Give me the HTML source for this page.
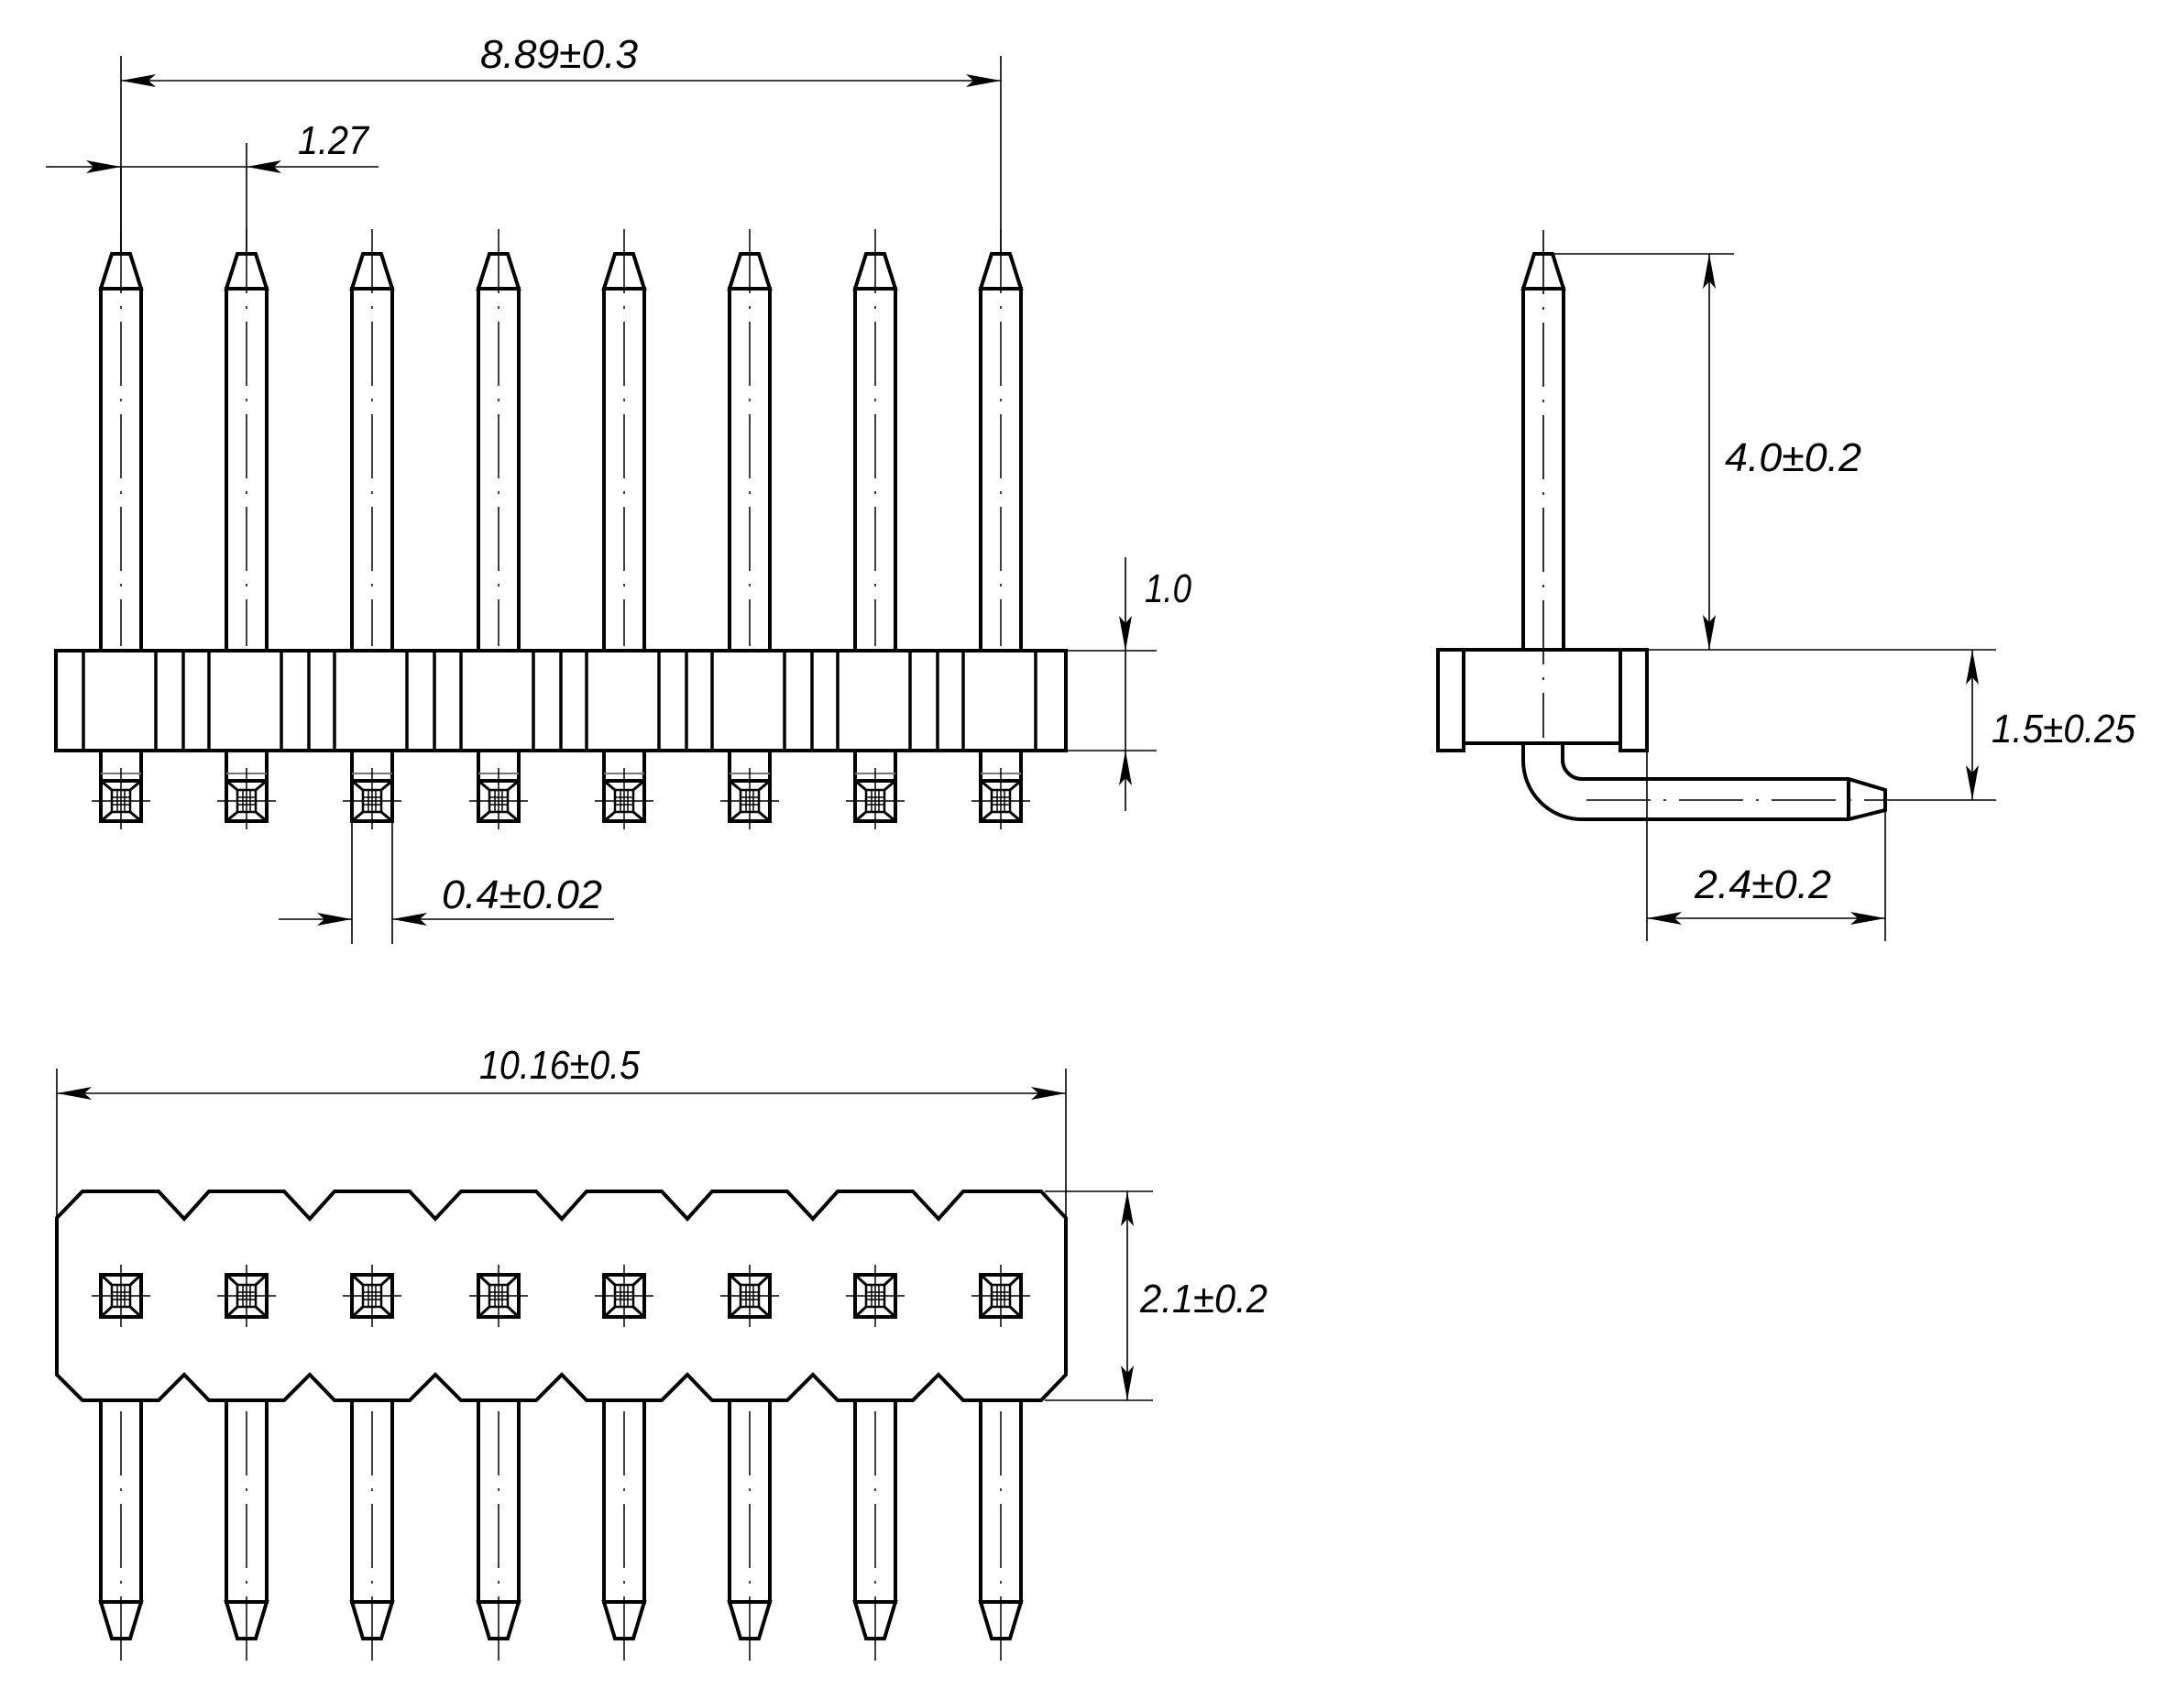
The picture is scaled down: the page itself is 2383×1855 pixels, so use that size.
<!DOCTYPE html>
<html><head><meta charset="utf-8"><style>html,body{margin:0;padding:0;background:#fff}svg{display:block}</style></head>
<body>
<svg width="2383" height="1855" viewBox="0 0 2383 1855" xmlns="http://www.w3.org/2000/svg">
<defs>
<g id="fpin">
  <polygon points="-10,277 10,277 22,315 -22,315" fill="none" stroke="#000" stroke-width="4"/>
  <rect x="-22" y="315" width="44" height="395" fill="none" stroke="#000" stroke-width="4"/>
  <line x1="0" y1="250" x2="0" y2="705" stroke="#000" stroke-width="1.5" stroke-dasharray="70 14 3 14"/>
  <rect x="-22" y="819" width="44" height="77" fill="none" stroke="#000" stroke-width="4"/>
  <line x1="-22" y1="844" x2="22" y2="844" stroke="#777" stroke-width="2"/>
  <rect x="-22" y="852" width="44" height="44" fill="none" stroke="#000" stroke-width="4"/>
  <rect x="-10" y="862" width="20" height="24" fill="none" stroke="#000" stroke-width="2.5"/>
  <path d="M-22,852 L-10,862 M22,852 L10,862 M-22,896 L-10,886 M22,896 L10,886" stroke="#000" stroke-width="3"/>
  <path d="M-4,862 V886 M4,862 V886 M-10,870 H10 M-10,878 H10" stroke="#000" stroke-width="1.5"/>
  <line x1="-32" y1="874" x2="32" y2="874" stroke="#000" stroke-width="1.5"/>
  <line x1="0" y1="838" x2="0" y2="905" stroke="#000" stroke-width="1.5"/>
</g>
<g id="bpad">
  <rect x="-22" y="1391" width="44" height="46" fill="none" stroke="#000" stroke-width="4"/>
  <rect x="-10" y="1402" width="20" height="24" fill="none" stroke="#000" stroke-width="2.5"/>
  <path d="M-22,1391 L-10,1402 M22,1391 L10,1402 M-22,1437 L-10,1426 M22,1437 L10,1426" stroke="#000" stroke-width="3"/>
  <path d="M-4,1402 V1426 M4,1402 V1426 M-10,1410 H10 M-10,1418 H10" stroke="#000" stroke-width="1.5"/>
  <line x1="-32" y1="1414" x2="32" y2="1414" stroke="#000" stroke-width="1.5"/>
  <line x1="0" y1="1380" x2="0" y2="1448" stroke="#000" stroke-width="1.5"/>
  <rect x="-22" y="1528" width="44" height="220" fill="none" stroke="#000" stroke-width="4"/>
  <polygon points="-22,1748 22,1748 10,1788 -10,1788" fill="none" stroke="#000" stroke-width="4"/>
  <line x1="0" y1="1540" x2="0" y2="1815" stroke="#000" stroke-width="1.5" stroke-dasharray="70 14 3 14"/>
</g>
</defs>

<!-- FRONT VIEW -->
<use href="#fpin" x="132"/><use href="#fpin" x="269"/><use href="#fpin" x="406"/><use href="#fpin" x="544"/>
<use href="#fpin" x="681"/><use href="#fpin" x="818"/><use href="#fpin" x="955"/><use href="#fpin" x="1092"/>
<rect x="61" y="710" width="1102" height="109" fill="none" stroke="#000" stroke-width="4"/>
<g stroke="#000" stroke-width="3.5">
<path d="M91,710V819M170,710V819M200,710V819M228,710V819M307,710V819M337,710V819M365,710V819M444,710V819M474,710V819M503,710V819M582,710V819M612,710V819M640,710V819M719,710V819M749,710V819M777,710V819M856,710V819M886,710V819M914,710V819M993,710V819M1023,710V819M1051,710V819M1130,710V819"/>
</g>
<g stroke="#000" stroke-width="1.6" fill="none">
<!-- 8.89 -->
<path d="M132,61V277M1092,61V277M132,88H1092"/>
<!-- 1.27 -->
<path d="M50,182H413M269,156V277M132,182V277"/>
<!-- 1.0 -->
<path d="M1163,710H1262M1163,819H1262M1228,608V885"/>
<!-- 0.4 -->
<path d="M384,897V1030M428,897V1030M304,1003H384M428,1003H670"/>
</g>
<g fill="#000">
<polygon points="132,88 170,81 162,88 170,95"/>
<polygon points="1092,88 1054,81 1062,88 1054,95"/>
<polygon points="132,182 94,175 102,182 94,189"/>
<polygon points="269,182 307,175 299,182 307,189"/>
<polygon points="1228,710 1221,672 1228,680 1235,672"/>
<polygon points="1228,819 1221,857 1228,849 1235,857"/>
<polygon points="384,1003 346,996 354,1003 346,1010"/>
<polygon points="428,1003 466,996 458,1003 466,1010"/>
</g>

<!-- SIDE VIEW -->
<g fill="none" stroke="#000" stroke-width="4">
<polygon points="1674,277 1694,277 1706,315 1662,315"/>
<rect x="1662" y="315" width="44" height="394"/>
<rect x="1569" y="709" width="28" height="110"/>
<rect x="1768" y="709" width="29" height="110"/>
<rect x="1597" y="709" width="171" height="102"/>
<path d="M1662,811 L1662,830 A64,64 0 0 0 1726,894 L2017,894 L2057,884 L2057,862 L2017,850 L1726,850 A21,21 0 0 1 1705,829 L1705,811"/>
<line x1="2017" y1="850" x2="2017" y2="894"/>
</g>
<g stroke="#000" stroke-width="1.6" fill="none">
<line x1="1684" y1="251" x2="1684" y2="805" stroke-dasharray="70 14 3 14"/>
<line x1="1731" y1="873" x2="2055" y2="873" stroke-dasharray="70 14 3 14"/>
<path d="M2057,873H2178M1684,277H1892M1865,277V709M1797,709H2178M2152,709V873M1797,819V1027M2057,884V1027M1797,1002H2057"/>
</g>
<g fill="#000">
<polygon points="1865,277 1858,315 1865,307 1872,315"/>
<polygon points="1865,709 1858,671 1865,679 1872,671"/>
<polygon points="2152,709 2145,747 2152,739 2159,747"/>
<polygon points="2152,873 2145,835 2152,843 2159,835"/>
<polygon points="1797,1002 1835,995 1827,1002 1835,1009"/>
<polygon points="2057,1002 2019,995 2027,1002 2019,1009"/>
</g>

<!-- BOTTOM VIEW -->
<path d="M62,1329 L90,1300 L173,1300 L201,1330 L228,1300 L310,1300 L338,1330 L365,1300 L447,1300 L475,1330 L503,1300 L585,1300 L613,1330 L640,1300 L722,1300 L750,1330 L777,1300 L859,1300 L887,1330 L914,1300 L996,1300 L1024,1330 L1051,1300 L1136,1300 L1163,1329 L1163,1500 L1136,1528 L1051,1528 L1024,1500 L996,1528 L914,1528 L887,1500 L859,1528 L777,1528 L750,1500 L722,1528 L640,1528 L613,1500 L585,1528 L503,1528 L475,1500 L447,1528 L365,1528 L338,1500 L310,1528 L228,1528 L201,1500 L173,1528 L90,1528 L62,1500 Z" fill="none" stroke="#000" stroke-width="4"/>
<use href="#bpad" x="132"/><use href="#bpad" x="269"/><use href="#bpad" x="406"/><use href="#bpad" x="544"/>
<use href="#bpad" x="681"/><use href="#bpad" x="818"/><use href="#bpad" x="955"/><use href="#bpad" x="1092"/>
<g stroke="#000" stroke-width="1.6" fill="none">
<path d="M62,1166V1329M1163,1166V1329M62,1193H1163M1140,1300H1258M1140,1528H1258M1230,1300V1528"/>
</g>
<g fill="#000">
<polygon points="62,1193 100,1186 92,1193 100,1200"/>
<polygon points="1163,1193 1125,1186 1133,1193 1125,1200"/>
<polygon points="1230,1300 1223,1338 1230,1330 1237,1338"/>
<polygon points="1230,1528 1223,1490 1230,1498 1237,1490"/>
</g>

<!-- TEXT -->
<g font-family="Liberation Sans, sans-serif" font-style="italic" font-size="44" fill="#000">
<text x="524" y="74" textLength="172" lengthAdjust="spacingAndGlyphs">8.89±0.3</text>
<text x="325" y="168" textLength="77" lengthAdjust="spacingAndGlyphs">1.27</text>
<text x="1249" y="657" textLength="51" lengthAdjust="spacingAndGlyphs">1.0</text>
<text x="482" y="991" textLength="175" lengthAdjust="spacingAndGlyphs">0.4±0.02</text>
<text x="1882" y="514" textLength="149" lengthAdjust="spacingAndGlyphs">4.0±0.2</text>
<text x="2173" y="810" textLength="157" lengthAdjust="spacingAndGlyphs">1.5±0.25</text>
<text x="1849" y="980" textLength="149" lengthAdjust="spacingAndGlyphs">2.4±0.2</text>
<text x="523" y="1177" textLength="175" lengthAdjust="spacingAndGlyphs">10.16±0.5</text>
<text x="1244" y="1432" textLength="139" lengthAdjust="spacingAndGlyphs">2.1±0.2</text>
</g>
</svg>
</body></html>
